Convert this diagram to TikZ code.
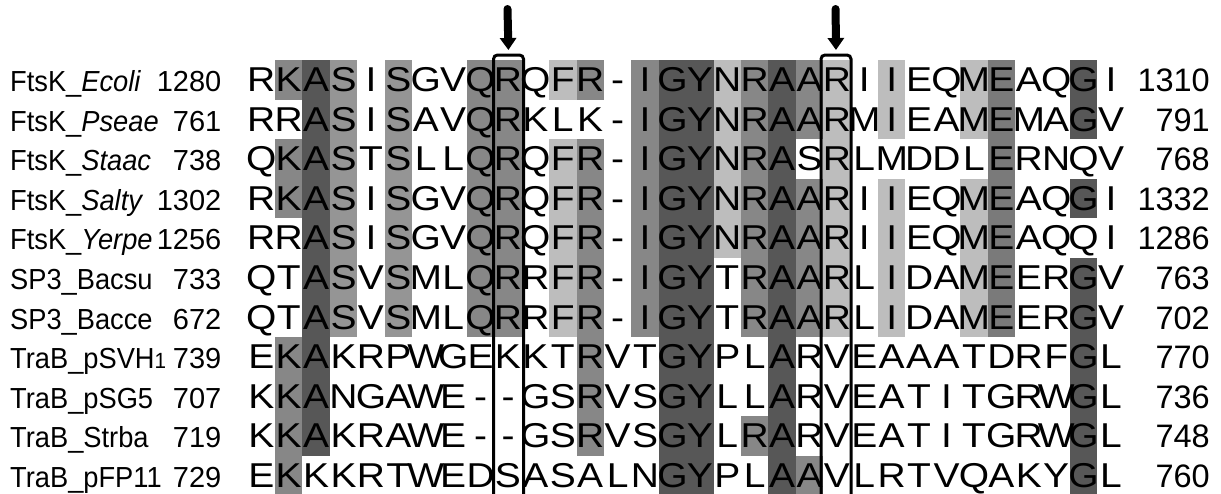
\documentclass[tikz,border=0pt]{standalone}
\usepackage{graphicx}
\usepackage{fontspec}
\setmainfont{Liberation Sans}
\usetikzlibrary{arrows.meta}
\definecolor{dk}{HTML}{575757}
\definecolor{md}{HTML}{878787}
\definecolor{ms}{HTML}{959595}
\definecolor{me}{HTML}{7A7A7A}
\definecolor{lt}{HTML}{BDBDBD}
\newcommand\cellfill[4]{\fill[#4] ({247.6+(#1-1)*27.41},{60+(#2-1)*39.6}) rectangle ({247.6+#1*27.41},{60+#3*39.6});}
\newcommand\wideres[1]{\scalebox{1.13}[1]{#1}}
\newcommand\narrowlab[1]{\scalebox{0.94}[1]{#1}}
\tikzset{
 res/.style={anchor=base, inner sep=0pt, font=\fontsize{34.5}{40}\selectfont},
 lab/.style={anchor=base west, inner sep=0pt, font=\fontsize{29}{34}\selectfont},
 num/.style={anchor=base east, inner sep=0pt, font=\fontsize{29}{34}\selectfont},
 endnum/.style={anchor=base east, inner sep=0pt, font=\fontsize{32.5}{38}\selectfont},
 colbox/.style={draw, line width=3pt, rounded corners=4pt, minimum width=30pt, minimum height=480pt, anchor=north, inner sep=0pt},
 bigarrow/.style={line width=8pt, line cap=round, -{Triangle[width=16pt,length=12pt]}, shorten >=3.5pt}
}
\begin{document}
\begin{tikzpicture}[x=1pt,y=-1pt]
\useasboundingbox (0,0) rectangle (1221,493);
\fill[white] (0,0) rectangle (1221,493);
% shading
\cellfill{2}{1}{1}{md}\cellfill{2}{3}{4}{md}\cellfill{2}{8}{11}{md}
\cellfill{3}{1}{10}{dk}
\cellfill{4}{1}{7}{ms}
\cellfill{6}{1}{7}{ms}
\cellfill{9}{1}{7}{md}
\cellfill{10}{1}{7}{md}
\cellfill{12}{1}{1}{lt}\cellfill{12}{3}{7}{lt}
\cellfill{13}{1}{1}{md}\cellfill{13}{3}{10}{md}
\cellfill{15}{1}{7}{md}
\cellfill{16}{1}{11}{dk}
\cellfill{17}{1}{11}{dk}
\cellfill{18}{1}{5}{lt}
\cellfill{19}{1}{7}{md}\cellfill{19}{10}{10}{md}
\cellfill{20}{1}{11}{dk}
\cellfill{21}{1}{2}{md}\cellfill{21}{4}{7}{md}\cellfill{21}{11}{11}{md}
\cellfill{22}{1}{7}{lt}
\cellfill{24}{1}{2}{lt}\cellfill{24}{4}{7}{lt}
\cellfill{27}{1}{2}{lt}\cellfill{27}{4}{7}{lt}
\cellfill{28}{1}{7}{me}
\cellfill{31}{1}{2}{dk}\cellfill{31}{4}{4}{dk}\cellfill{31}{6}{11}{dk}
% residues
\foreach \seq [count=\r] in {
 {R,K,A,S,I,S,G,V,Q,R,Q,F,R,-,I,G,Y,N,R,A,A,R,I,I,E,Q,M,E,A,Q,G,I},
 {R,R,A,S,I,S,A,V,Q,R,K,L,K,-,I,G,Y,N,R,A,A,R,M,I,E,A,M,E,M,A,G,V},
 {Q,K,A,S,T,S,L,L,Q,R,Q,F,R,-,I,G,Y,N,R,A,S,R,L,M,D,D,L,E,R,N,Q,V},
 {R,K,A,S,I,S,G,V,Q,R,Q,F,R,-,I,G,Y,N,R,A,A,R,I,I,E,Q,M,E,A,Q,G,I},
 {R,R,A,S,I,S,G,V,Q,R,Q,F,R,-,I,G,Y,N,R,A,A,R,I,I,E,Q,M,E,A,Q,Q,I},
 {Q,T,A,S,V,S,M,L,Q,R,R,F,R,-,I,G,Y,T,R,A,A,R,L,I,D,A,M,E,E,R,G,V},
 {Q,T,A,S,V,S,M,L,Q,R,R,F,R,-,I,G,Y,T,R,A,A,R,L,I,D,A,M,E,E,R,G,V},
 {E,K,A,K,R,P,W,G,E,K,K,T,R,V,T,G,Y,P,L,A,R,V,E,A,A,A,T,D,R,F,G,L},
 {K,K,A,N,G,A,W,E,-,-,G,S,R,V,S,G,Y,L,L,A,R,V,E,A,T,I,T,G,R,W,G,L},
 {K,K,A,K,R,A,W,E,-,-,G,S,R,V,S,G,Y,L,R,A,R,V,E,A,T,I,T,G,R,W,G,L},
 {E,K,K,K,R,T,W,E,D,S,A,S,A,L,N,G,Y,P,L,A,A,V,L,R,T,V,Q,A,K,Y,G,L}}{
  \foreach \aa [count=\c] in \seq {
    \node[res] (r\r c\c) at ({247.6+(\c-0.5)*27.41},{91.5+(\r-1)*39.6}) {\wideres{\aa}};
  }
}
% labels and numbers
\foreach \nm/\st/\en [count=\r] in {
 FtsK\_\textit{Ecoli}/1280/1310,
 FtsK\_\textit{Pseae}/761/791,
 FtsK\_\textit{Staac}/738/768,
 FtsK\_\textit{Salty}/1302/1332,
 FtsK\_\textit{Yerpe}/1256/1286,
 SP3\_Bacsu/733/763,
 SP3\_Bacce/672/702,
 TraB\_pSVH{\fontsize{22}{22}\selectfont 1}/739/770,
 TraB\_pSG5/707/736,
 TraB\_Strba/719/748,
 TraB\_pFP11/729/760}{
  \node[lab] (name\r) at (10,{91.5+(\r-1)*39.6}) {\narrowlab{\nm}};
  \node[num] (start\r) at (221.5,{91.5+(\r-1)*39.6}) {\st};
  \node[endnum] (end\r) at (1210,{91.5+(\r-1)*39.6}) {\en};
}
% boxes and arrows
\node[colbox] (box1) at (508.5,53.5) {};
\node[colbox] (box2) at (836,53.5) {};
\coordinate (a1) at (507.5,9);
\coordinate (a2) at (835.6,9);
\draw[bigarrow] (a1) -- (box1.north);
\draw[bigarrow] (a2) -- (box2.north);
\end{tikzpicture}
\end{document}
